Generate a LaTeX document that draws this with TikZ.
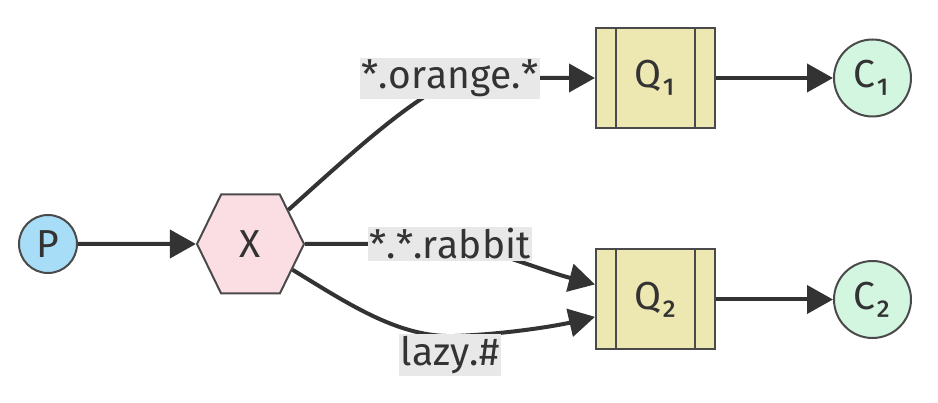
\documentclass[tikz,border=0pt]{standalone}
\usepackage{fontspec}
\setmainfont{Fira Sans}[Kerning=Off]
\usetikzlibrary{arrows.meta,shapes.symbols}
\definecolor{inkc}{HTML}{333333}
\definecolor{linec}{HTML}{4A4A4A}
\definecolor{pfill}{HTML}{A7DDF7}
\definecolor{xfill}{HTML}{FADEE4}
\definecolor{qfill}{HTML}{EDE7B1}
\definecolor{cfill}{HTML}{D3F6E0}
\definecolor{keyfill}{HTML}{E8E8E8}

\begin{document}
\begin{tikzpicture}[x=1pt,y=-1pt,font=\fontsize{39}{44}\selectfont,text=inkc,
    edge/.style={draw=inkc,line width=4pt,-{Triangle[length=26pt,width=28pt]}}]
  \tikzstyle{prod}=[circle,draw=linec,fill=pfill,line width=2pt,minimum size=58pt,inner sep=0pt]
  \tikzstyle{exch}=[signal,signal to=east and west,signal pointer angle=128,draw=linec,fill=xfill,line width=2pt,minimum width=107pt,minimum height=99pt,inner sep=0pt]
  \tikzstyle{queue}=[rectangle,draw=linec,fill=qfill,line width=2pt,minimum width=119pt,minimum height=100pt,
    path picture={\draw[linec,line width=2pt]
      ([xshift=20pt]path picture bounding box.north west) -- ([xshift=20pt]path picture bounding box.south west)
      ([xshift=-20pt]path picture bounding box.north east) -- ([xshift=-20pt]path picture bounding box.south east);}]
  \tikzstyle{cons}=[circle,draw=linec,fill=cfill,line width=2pt,minimum size=77pt,inner sep=0pt]
  \tikzstyle{key}=[fill=keyfill,inner sep=2pt]
  \useasboundingbox (0,0) rectangle (938,403);
  % nodes
  \node[prod]  (P)  at (48,244)     {P};
  \node[exch]  (X)  at (250.5,244)  {X};
  \node[queue] (Q1) at (655.5,78)   {Q₁};
  \node[queue] (Q2) at (655.5,299.5) {Q₂};
  \node[cons]  (C1) at (872.5,78)   {C₁};
  \node[cons]  (C2) at (872.5,299.5) {C₂};
  \coordinate (k1) at (460,78);
  \coordinate (k2) at (450,244);
  \coordinate (k3) at (455,336);
  % bindings
  \draw[edge] (P) -- (X);
  \draw[edge] (X) .. controls (355,150) and (415,95) .. (k1) -- (Q1);
  \draw[edge] (X) -- (k2) .. controls (495,250) and (540,270) .. (Q2.166);
  \draw[edge] (X) .. controls (350,305) and (400,338) .. (k3) .. controls (510,334) and (560,325) .. (Q2.196);
  \draw[edge] (Q1) -- (C1);
  \draw[edge] (Q2) -- (C2);
  % routing keys
  \node[key] (K1) at (450,78.5) {*.orange.*};
  \node[key] (K2) at (450,244)  {*.*.rabbit};
  \node[key] (K3) at (450,355)  {lazy.\#};
\end{tikzpicture}
\end{document}
